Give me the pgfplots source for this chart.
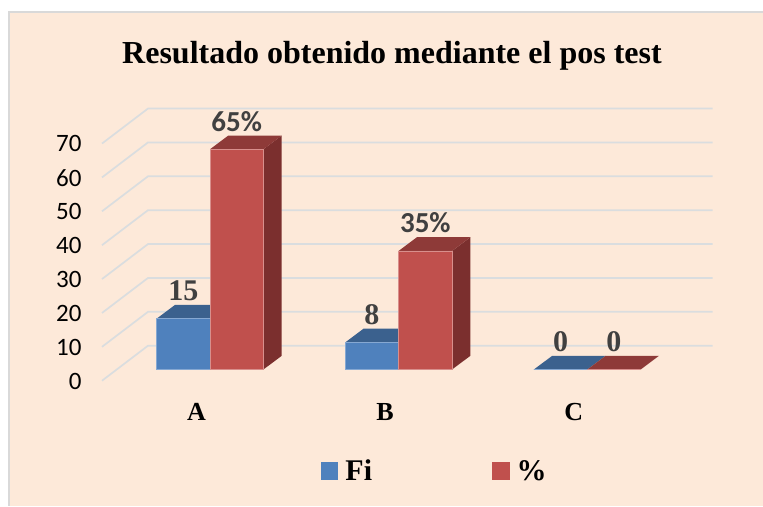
\documentclass[border=0pt]{standalone}
\usepackage{fontspec}
\usepackage{pgfplots}
\pgfplotsset{compat=1.18}
\setmainfont{Liberation Serif}
\newfontfamily\carlito{Carlito}
\definecolor{peach}{HTML}{FDE9D9}
\definecolor{frameg}{HTML}{D9D9D9}
\definecolor{gridc}{HTML}{DADDDF}
\definecolor{blueF}{HTML}{4F81BD}
\definecolor{blueT}{HTML}{3B618E}
\definecolor{redF}{HTML}{C0504D}
\definecolor{redT}{HTML}{8E3A38}
\definecolor{redS}{HTML}{7B2F2E}
\definecolor{edgeB}{HTML}{86A8D2}
\definecolor{edgeR}{HTML}{D88F8C}
\definecolor{lab}{HTML}{404040}
\begin{document}
\begin{tikzpicture}
\fill[white] (0,0) rectangle (763pt,506pt);
\fill[frameg] (8.3pt,0) rectangle (763pt,494.7pt);
\fill[peach] (10pt,0) rectangle (763pt,493pt);
\begin{axis}[
  at={(0,0)}, anchor=south west,
  scale only axis, width=763pt, height=506pt,
  xmin=-1.1132, xmax=2.9314, ymin=-40.29, ymax=109.06,
  clip=false,
  axis line style={draw=none}, tick style={draw=none},
  xtick={0,1,2}, xticklabels={A,B,C},
  ytick={0,10,...,70},
  /pgf/number format/assume math mode=true,
  yticklabel style={font=\carlito\fontsize{25}{26}\selectfont, color=black, anchor=east, xshift=85pt, yshift=-11.5pt},
  xticklabel style={font=\bfseries\fontsize{26}{28}\selectfont, color=black, anchor=center, xshift=-13.5pt, yshift=94pt},
  title={Resultado obtenido mediante el pos test},
  title style={font=\bfseries\fontsize{32}{34}\selectfont, at={(392/763,453/506)}, anchor=center, yshift=-9pt},
  legend columns=2,
  legend style={at={(321/763,35/506)}, anchor=west, draw=none, fill=none, inner sep=0pt, outer sep=0pt,
    font=\bfseries\fontsize{30}{32}\selectfont,
    /tikz/every odd column/.append style={column sep=5pt},
    /tikz/every even column/.append style={column sep=118pt}},
  legend image code/.code={\fill[#1,draw=none] (0pt,-9pt) rectangle (17.5pt,9pt);},
  every node near coord/.style={anchor=center, yshift=28pt, color=lab, font=\bfseries\fontsize{30}{31}\selectfont},
]
% gridlines: left end on the front plane, back wall
\addplot[gridc, line width=1.7pt, forget plot] coordinates {(-0.5725,-3.31)(-0.3287,7.02)(2.6647,7.02)};
\addplot[gridc, line width=1.7pt, forget plot] coordinates {(-0.5725,6.69)(-0.3287,17.02)(2.6647,17.02)};
\addplot[gridc, line width=1.7pt, forget plot] coordinates {(-0.5725,16.69)(-0.3287,27.02)(2.6647,27.02)};
\addplot[gridc, line width=1.7pt, forget plot] coordinates {(-0.5725,26.69)(-0.3287,37.02)(2.6647,37.02)};
\addplot[gridc, line width=1.7pt, forget plot] coordinates {(-0.5725,36.69)(-0.3287,47.02)(2.6647,47.02)};
\addplot[gridc, line width=1.7pt, forget plot] coordinates {(-0.5725,46.69)(-0.3287,57.02)(2.6647,57.02)};
\addplot[gridc, line width=1.7pt, forget plot] coordinates {(-0.5725,56.69)(-0.3287,67.02)(2.6647,67.02)};
\addplot[gridc, line width=1.7pt, forget plot] coordinates {(-0.5725,66.69)(-0.3287,77.02)(2.6647,77.02)};
% Fi: top faces
\addplot[fill=blueT, draw=none, forget plot] coordinates {(-0.2831,15)(0,15)(0.097,19.04)(-0.1861,19.04)} -- cycle;
\addplot[fill=blueT, draw=none, forget plot] coordinates {(0.7169,8)(1,8)(1.097,12.04)(0.8139,12.04)} -- cycle;
\addplot[fill=blueT, draw=none, forget plot] coordinates {(1.7169,0)(2,0)(2.097,4.04)(1.8139,4.04)} -- cycle;
% %: side and top faces
\addplot[fill=redS, draw=none, forget plot] coordinates {(0.2831,0)(0.2831,65)(0.3801,69.04)(0.3801,4.04)} -- cycle;
\addplot[fill=redT, draw=none, forget plot] coordinates {(0,65)(0.2831,65)(0.3801,69.04)(0.097,69.04)} -- cycle;
\addplot[fill=redS, draw=none, forget plot] coordinates {(1.2831,0)(1.2831,35)(1.3801,39.04)(1.3801,4.04)} -- cycle;
\addplot[fill=redT, draw=none, forget plot] coordinates {(1,35)(1.2831,35)(1.3801,39.04)(1.097,39.04)} -- cycle;
\addplot[fill=redT, draw=none, forget plot] coordinates {(2,0)(2.2831,0)(2.3801,4.04)(2.097,4.04)} -- cycle;
% front faces
\addplot[ybar, bar width=53.4pt, bar shift=-26.7pt, fill=blueF, draw=edgeB, line width=0.6pt,
  point meta=explicit symbolic, nodes near coords,
  every node near coord/.append style={xshift=-26.7pt}] coordinates {(0,15)[15] (1,8)[8] (2,0)[0]};
\addlegendentry{Fi}
\addplot[ybar, bar width=53.4pt, bar shift=26.7pt, fill=redF, draw=edgeR, line width=0.6pt,
  point meta=explicit symbolic, nodes near coords,
  every node near coord/.append style={xshift=26.7pt}] coordinates {(0,65)[{\carlito\fontsize{29}{30}\selectfont 65\%}] (1,35)[{\carlito\fontsize{29}{30}\selectfont 35\%}] (2,0)[0]};
\addlegendentry{\%}
\end{axis}
\end{tikzpicture}
\end{document}
